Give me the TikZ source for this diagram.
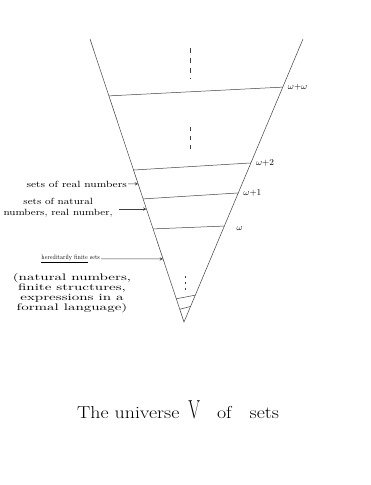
\documentclass[tikz,border=0pt]{standalone}
\usepackage{graphicx}
\usetikzlibrary{positioning, arrows.meta, calc}
\newcommand{\wide}[2][1.2]{\scalebox{#1}[1]{#2}}

\begin{document}
\begin{tikzpicture}[x=1pt, y=-1pt, >=stealth,
    pencil/.style={black!75, line width=0.5pt},
    stagelbl/.style={font=\small, anchor=west, inner sep=0pt, xshift=5pt},
    sidelbl/.style={font=\small, align=center, inner sep=1pt}]
    \useasboundingbox (0,0) rectangle (370,485);

    % The cone
    \coordinate (lefttop) at (90,39);
    \coordinate (righttop) at (303,39);
    \coordinate (apex) at (184,322);
    \draw[pencil] (lefttop) -- (apex) -- (righttop);

    % Stages
    \coordinate (s4l) at ($(lefttop)!0.201!(apex)$);
    \coordinate (s4r) at ($(righttop)!0.170!(apex)$);
    \coordinate (s3l) at ($(lefttop)!0.463!(apex)$);
    \coordinate (s3r) at ($(righttop)!0.438!(apex)$);
    \coordinate (s2l) at ($(lefttop)!0.565!(apex)$);
    \coordinate (s2r) at ($(righttop)!0.544!(apex)$);
    \coordinate (s1l) at ($(lefttop)!0.671!(apex)$);
    \coordinate (s1r) at ($(righttop)!0.661!(apex)$);
    \coordinate (s0l) at ($(lefttop)!0.918!(apex)$);
    \coordinate (s0r) at ($(righttop)!0.905!(apex)$);
    \coordinate (sbl) at ($(lefttop)!0.955!(apex)$);
    \coordinate (sbr) at ($(righttop)!0.945!(apex)$);
    \draw[pencil] (s4l) -- (s4r);
    \draw[pencil] (s3l) -- (s3r);
    \draw[pencil] (s2l) -- (s2r);
    \draw[pencil] (s1l) -- (s1r);
    \draw[pencil] (s0l) -- (s0r);
    \draw[pencil] (sbl) -- (sbr);

    % Stage labels
    \node[stagelbl] (ww) at (s4r) {$\omega{+}\omega$};
    \node[stagelbl] (w2) at (s3r) {$\omega{+}2$};
    \node[stagelbl] (w1) at (s2r) {$\omega{+}1$};
    \node[stagelbl, xshift=7pt, yshift=-2pt] (w0) at (s1r) {$\omega$};

    % Vertical dots
    \coordinate (d1a) at (190,48);
    \coordinate (d1b) at (190,79);
    \coordinate (d2a) at (190,127);
    \coordinate (d2b) at (190,151);
    \coordinate (d3a) at (185,276);
    \coordinate (d3b) at (185,291);
    \draw[pencil, dash pattern=on 5pt off 5pt] (d1a) -- (d1b);
    \draw[pencil, dash pattern=on 4pt off 5pt] (d2a) -- (d2b);
    \draw[pencil, dash pattern=on 2pt off 4pt] (d3a) -- (d3b);

    % Side labels
    \coordinate (realtip) at ($(lefttop)!0.512!(apex)$);
    \coordinate (nattip) at ($(lefttop)!0.601!(apex)$);
    \coordinate (hftip) at ($(lefttop)!0.777!(apex)$);
    \node[sidelbl, anchor=east] (reals) at (128,184) {\wide[1.24]{sets of real numbers}};
    \node[sidelbl, anchor=east] (nats) at (114,208)
        {\wide{\begin{tabular}{@{}c@{}}sets of natural\\numbers, real number,\end{tabular}}};
    \node[sidelbl, font=\fontsize{6.5}{7}\selectfont, anchor=east] (hf) at (101,259)
        {\wide[0.82]{\underline{hereditarily finite} sets}};
    \node[sidelbl, font=\fontsize{9.5}{10}\selectfont, anchor=north] (hfex) at (72,272)
        {\wide[1.58]{\begin{tabular}{@{}c@{}}(natural numbers,\\finite structures,\\expressions in a\\formal language)\end{tabular}}};
    \draw[pencil, ->] (reals) -- (realtip);
    \draw[pencil, ->] ([xshift=5pt]nats.east |- nattip) -- (nattip);
    \draw[pencil, ->] (hf) -- (hftip);

    % Title
    \node[font=\LARGE, anchor=base west, inner sep=0pt] (title) at (77,418)
        {\wide[1.15]{The universe}\hspace{9pt}\wide[0.65]{\fontsize{26}{26}\selectfont V}%
         \hspace{17pt}\wide[1.15]{of}\hspace{18pt}\wide[1.15]{sets}};
\end{tikzpicture}
\end{document}
